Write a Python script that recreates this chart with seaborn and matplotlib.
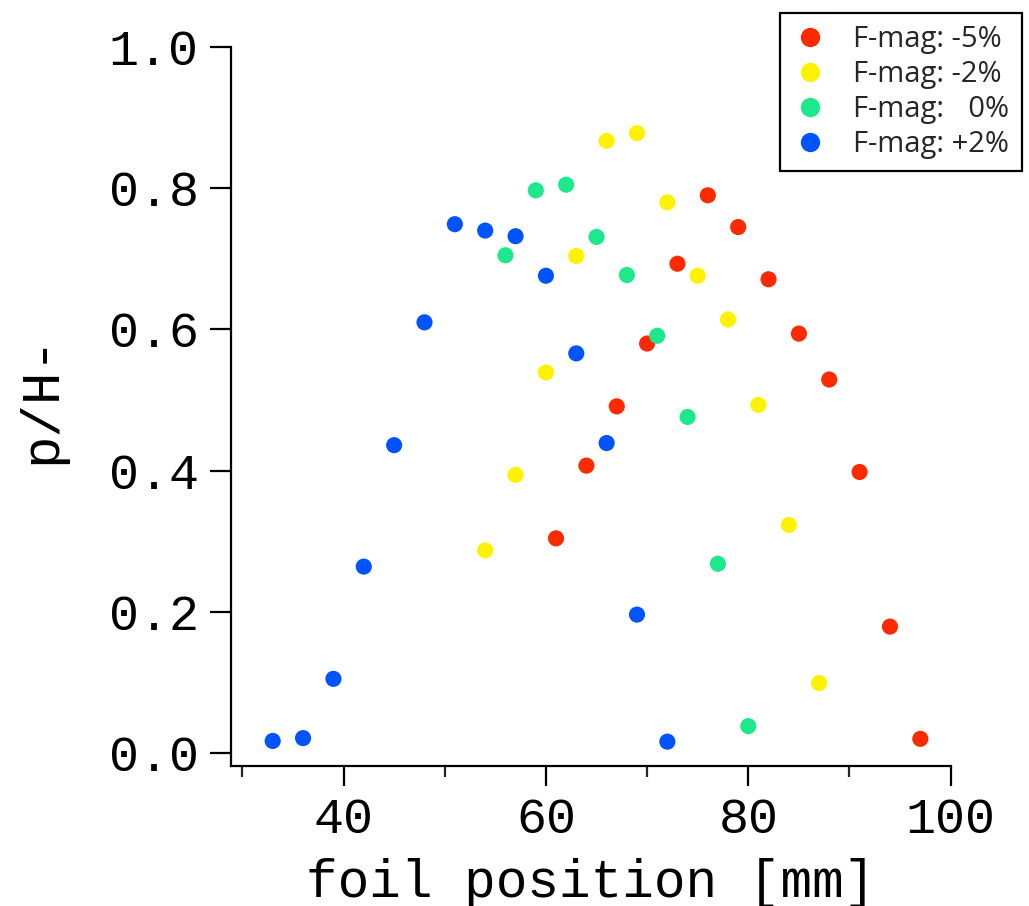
import matplotlib
matplotlib.use("Agg")
import matplotlib.pyplot as plt
import numpy as np
import pandas as pd
import seaborn as sns

# Foil scan: fraction p/H- versus foil position for four F-magnet settings
series_labels = ["F-mag: -5%", "F-mag: -2%", "F-mag: \u20070%", "F-mag: +2%"]
series_colors = ["#fb2a00", "#fff200", "#1ee88c", "#0054ff"]

pos_m5 = [61, 64, 67, 70, 73, 76, 79, 82, 85, 88, 91, 94, 97]
val_m5 = [0.304, 0.407, 0.491, 0.580, 0.693, 0.790, 0.745, 0.671, 0.594, 0.529, 0.398, 0.179, 0.020]

pos_m2 = [54, 57, 60, 63, 66, 69, 72, 75, 78, 81, 84, 87]
val_m2 = [0.287, 0.394, 0.539, 0.704, 0.867, 0.878, 0.780, 0.676, 0.614, 0.493, 0.323, 0.099]

pos_0 = [56, 59, 62, 65, 68, 71, 74, 77, 80]
val_0 = [0.705, 0.797, 0.805, 0.731, 0.677, 0.591, 0.476, 0.268, 0.038]

pos_p2 = [33, 36, 39, 42, 45, 48, 51, 54, 57, 60, 63, 66, 69, 72]
val_p2 = [0.017, 0.021, 0.105, 0.264, 0.436, 0.610, 0.749, 0.740, 0.732, 0.676, 0.566, 0.439, 0.196, 0.016]

x_ticks = [40, 60, 80, 100]
x_minor = [30, 50, 70, 90]
y_ticks = [0.0, 0.2, 0.4, 0.6, 0.8, 1.0]

frames = []
for lab, xs, ys in zip(series_labels,
                       [pos_m5, pos_m2, pos_0, pos_p2],
                       [val_m5, val_m2, val_0, val_p2]):
    frames.append(pd.DataFrame({"foil position [mm]": xs, "p/H-": ys, "setting": lab}))
df = pd.concat(frames, ignore_index=True)

sns.set_theme(style="ticks")
plt.rcParams["font.family"] = ["Liberation Mono", "DejaVu Sans Mono"]

fig = plt.figure(figsize=(10.29, 9.06), dpi=100)
ax = fig.add_axes([0.2242, 0.1549, 0.6997, 0.7932])

sns.scatterplot(data=df, x="foil position [mm]", y="p/H-", hue="setting",
                hue_order=series_labels, palette=series_colors,
                s=135, linewidth=0, edgecolor="none", ax=ax, legend=True)

ax.set_xlim(28.85, 100)
ax.set_ylim(-0.018, 1.0)
ax.set_xticks(x_ticks)
ax.set_xticks(x_minor, minor=True)
ax.set_yticks(y_ticks)
ax.set_yticklabels([f"{v:.1f}" for v in y_ticks])

for side in ["top", "right"]:
    ax.spines[side].set_visible(False)
for side in ["left", "bottom"]:
    ax.spines[side].set_linewidth(1.6)
    ax.spines[side].set_color("black")

ax.tick_params(axis="x", which="major", direction="out", length=14.5, width=1.6,
               labelsize=36, pad=8, colors="black")
ax.tick_params(axis="x", which="minor", direction="out", length=8, width=1.6)
ax.tick_params(axis="y", which="major", direction="out", length=15, width=1.6,
               labelsize=36, pad=8, colors="black")

ax.set_xlabel("foil position [mm]", fontsize=38, color="black")
ax.set_ylabel("p/H-", fontsize=39, color="black")
ax.xaxis.set_label_coords(0.5, -0.128)
ax.yaxis.set_label_coords(-0.228, 0.51)

handles, labels = ax.get_legend_handles_labels()
ax.legend_.remove()
leg = fig.legend(handles, labels, loc="upper right",
                 bbox_to_anchor=(1021.7 / 1029, 1 - 13 / 906),
                 bbox_transform=fig.transFigure, borderaxespad=0,
                 frameon=True, fancybox=False, framealpha=1,
                 prop={"family": ["Open Sans", "DejaVu Sans"], "size": 21},
                 labelspacing=0.2, handletextpad=0.9, borderpad=0.42,
                 handlelength=1.2, markerscale=1.2)
leg.get_frame().set_edgecolor("black")
leg.get_frame().set_linewidth(1.6)

fig.savefig("out.png", dpi=100, facecolor="white")
